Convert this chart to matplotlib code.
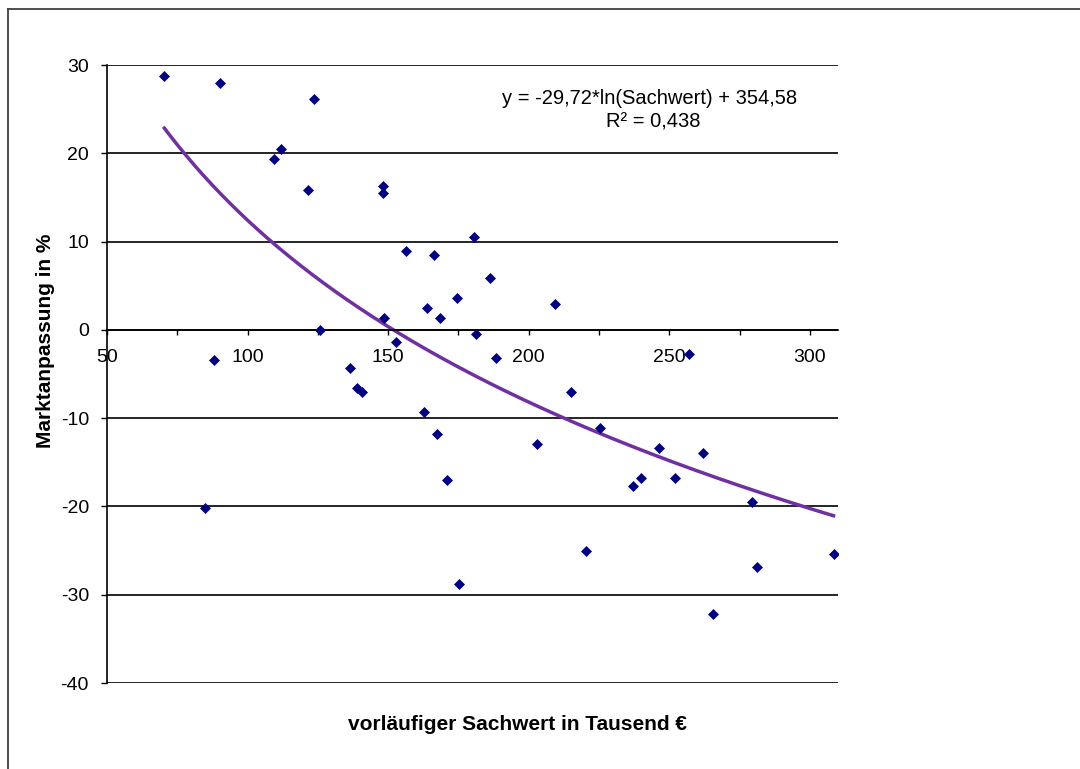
import numpy as np
import matplotlib.pyplot as plt
from matplotlib.lines import Line2D
from matplotlib.ticker import MultipleLocator

plt.rcParams['font.family'] = ['Liberation Sans', 'DejaVu Sans']
plt.rcParams['axes.unicode_minus'] = False

# Sachwert in Tausend Euro / Marktanpassung in %
sachwert = [70.4, 90.3, 123.5, 109.3, 112.0, 121.4, 125.7,
            148.2, 148.2, 180.5, 156.2, 166.2, 186.2, 174.6, 163.9, 209.5,
            168.3, 148.4, 181.1, 152.8, 188.2, 136.3,
            87.9, 138.9, 140.7, 162.7, 167.4, 171.0, 85.0, 175.1,
            257.0, 215.1, 225.2, 203.0, 246.5, 262.1, 237.2, 240.0, 252.2,
            279.3, 220.2, 281.3, 308.4, 265.7]
marktanpassung = [28.7, 28.0, 26.2, 19.4, 20.5, 15.8, 0.0,
                  16.3, 15.55, 10.57, 8.98, 8.53, 5.85, 3.59, 2.45, 2.94,
                  1.32, 1.32, -0.45, -1.36, -3.17, -4.30,
                  -3.43, -6.57, -7.06, -9.32, -11.8, -16.99, -20.2, -28.8,
                  -2.75, -7.06, -11.06, -12.9, -13.4, -14.0, -17.7, -16.8, -16.8,
                  -19.5, -25.1, -26.9, -25.4, -32.2]

# logarithmic trend line as given in the chart (Sachwert in Euro)
trend_a = -29.72
trend_b = 354.58

fig = plt.figure(figsize=(10.8, 7.69), dpi=100)
ax = fig.add_axes([107 / 1080, 1 - 683 / 769, 731 / 1080, 618 / 769])

ax.set_xlim(50, 310)
ax.set_ylim(-40, 30)

for yv in range(-40, 31, 10):
    ax.axhline(yv, color='black', lw=1.2, zorder=1)

xs = np.linspace(min(sachwert), max(sachwert), 300)
ax.plot(xs, trend_a * np.log(xs * 1000) + trend_b, color='#7030A0', lw=2.5, zorder=2)
ax.plot(sachwert, marktanpassung, linestyle='none', marker='D', ms=4.8,
        color='#000080', mec='#000080', mew=0.5, zorder=3)

for s in ['top', 'right']:
    ax.spines[s].set_visible(False)
ax.spines['bottom'].set_position(('data', 0))
ax.spines['bottom'].set_linewidth(1.2)
ax.spines['left'].set_linewidth(1.2)

ax.xaxis.set_major_locator(MultipleLocator(50))
ax.xaxis.set_minor_locator(MultipleLocator(25))
ax.yaxis.set_major_locator(MultipleLocator(10))
ax.tick_params(axis='x', which='both', direction='out', length=3.5, width=1, labelsize=14, pad=10)
ax.tick_params(axis='y', direction='out', length=4, width=1, labelsize=14, pad=9)

fig.text(46 / 1080, 1 - 341 / 769, 'Marktanpassung in %', rotation=90, fontsize=15,
         fontweight='bold', ha='center', va='center')
fig.text(518 / 1080, 1 - 725 / 769, 'vorläufiger Sachwert in Tausend €', fontsize=15,
         fontweight='bold', ha='center', va='center')

fig.text(650 / 1080, 1 - 98 / 769, 'y = -29,72*ln(Sachwert) + 354,58', fontsize=14.5,
         ha='center', va='center')
fig.text(653 / 1080, 1 - 122 / 769, 'R² = 0,438', fontsize=14.5, ha='center', va='center')

# chart border (top and left visible in the picture)
fig.add_artist(Line2D([7.5 / 1080, 1], [1 - 9 / 769, 1 - 9 / 769], color='#404040', lw=1.3,
                      transform=fig.transFigure))
fig.add_artist(Line2D([7.5 / 1080, 7.5 / 1080], [0, 1 - 9 / 769], color='#404040', lw=1.3,
                      transform=fig.transFigure))

fig.savefig('out.png', dpi=100)
